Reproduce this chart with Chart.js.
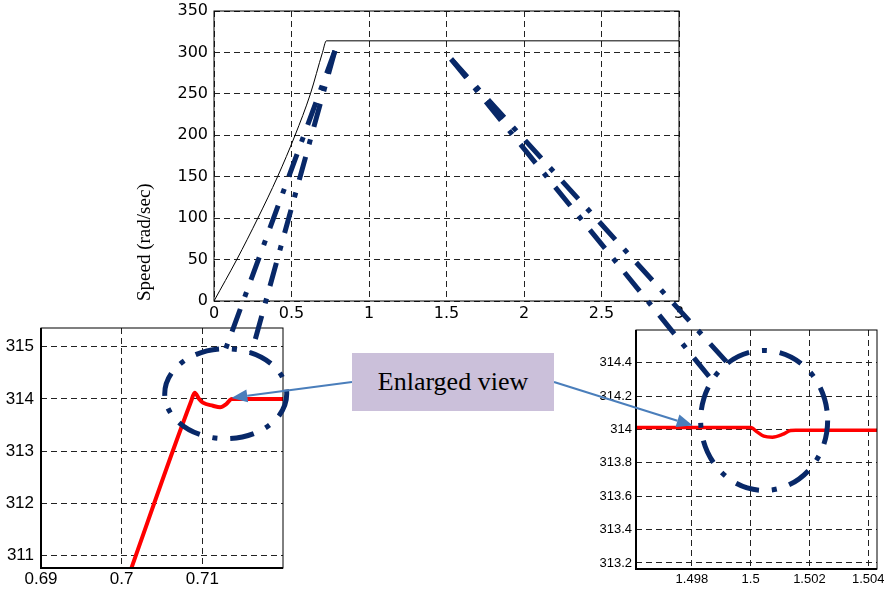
<!DOCTYPE html>
<html>
<head>
<meta charset="utf-8">
<script src="https://cdn.jsdelivr.net/npm/chart.js@4.4.1/dist/chart.umd.min.js"></script>
<style>
  body { margin: 0; background: #fff; width: 884px; height: 594px; overflow: hidden; position: relative; }
  canvas { position: absolute; }
  #main { left: 120px; top: 0px; }
  #start { left: 0px; top: 320px; }
  #step { left: 590px; top: 320px; }
  #notes { left: 0; top: 0; pointer-events: none; }
  #label {
    position: absolute; left: 352px; top: 353px; width: 202px; height: 58px;
    background: #cbc0da; display: flex; align-items: center; justify-content: center;
    font: 26px "Liberation Serif", "Times New Roman", serif; color: #000;
  }
</style>
</head>
<body>
<canvas id="main" width="580" height="330"></canvas>
<canvas id="start" width="300" height="274"></canvas>
<canvas id="step" width="294" height="274"></canvas>
<canvas id="notes" width="884" height="594"></canvas>
<div id="label">Enlarged view</div>
<script>
// main speed curve
const mainTime = [0, 0.147, 0.283, 0.41, 0.523, 0.622, 0.70, 0.725, 3];
const mainSpeed = [0, 50, 100, 150, 200, 250, 300, 314, 314];
const mainXTicks = [0, 0.5, 1, 1.5, 2, 2.5, 3];
const mainYTicks = [0, 50, 100, 150, 200, 250, 300, 350];

// zoom at the end of the ramp
const startTime = [0.7005, 0.7086, 0.70905, 0.7096, 0.71007, 0.71131, 0.71222, 0.71296, 0.71365, 0.7145, 0.72];
const startSpeed = [310.45, 313.95, 314.12, 314.0, 313.93, 313.87, 313.84, 313.9, 314.0, 314.0, 314.0];
const startXTicks = [0.69, 0.7, 0.71];
const startYTicks = [311, 312, 313, 314, 315];

// zoom at the load step
const stepTime = [1.4961, 1.5, 1.50023, 1.50045, 1.50074, 1.50108, 1.50136, 1.50153, 1.5043];
const stepSpeed = [314.012, 314.012, 313.984, 313.96, 313.954, 313.97, 313.994, 313.996, 313.996];
const stepXTicks = [1.498, 1.5, 1.502, 1.504];
const stepYTicks = [313.2, 313.4, 313.6, 313.8, 314, 314.2, 314.4];

const pts = (xs, ys) => xs.map((x, i) => ({x: x, y: ys[i]}));
const fmt = v => String(Number(v.toFixed(4)));

// MATLAB style box round the plot area
const boxPlugin = {
  id: 'box',
  afterDraw(chart, args, opts) {
    const a = chart.chartArea, ctx = chart.ctx;
    ctx.save();
    ctx.strokeStyle = '#000';
    ctx.lineWidth = 1;
    ctx.strokeRect(a.left, a.top, a.right - a.left, a.bottom - a.top);
    if (opts.heavy) {
      ctx.lineWidth = 2;
      ctx.beginPath();
      ctx.moveTo(a.left, a.top);
      ctx.lineTo(a.left, a.bottom);
      ctx.lineTo(a.right, a.bottom);
      ctx.stroke();
    }
    ctx.restore();
  }
};

function axis(min, max, ticks, size, font, pad, horizontal, title) {
  const o = {
    type: 'linear', min: min, max: max,
    afterBuildTicks: s => { s.ticks = ticks.map(v => ({value: v})); },
    afterFit: s => {
      if (horizontal) s.height = size; else s.width = size;
      s.paddingLeft = s.paddingRight = s.paddingTop = s.paddingBottom = 0;
    },
    grid: { color: '#222', lineWidth: 1, drawTicks: false },
    border: { display: false, dash: [6, 4] },
    ticks: { color: '#000', font: font, padding: pad, autoSkip: false, maxRotation: 0, callback: v => fmt(v) }
  };
  if (title) o.title = title;
  return o;
}

const mainChart = new Chart(document.getElementById('main'), {
  type: 'line',
  data: { datasets: [{
    data: pts(mainTime, mainSpeed),
    borderColor: '#000', borderWidth: 1, pointRadius: 0,
    cubicInterpolationMode: 'monotone'
  }]},
  options: {
    responsive: false, animation: false,
    layout: { padding: { left: 14, right: 21, top: 11, bottom: 0 } },
    plugins: { legend: { display: false }, tooltip: { enabled: false }, box: {} },
    scales: {
      x: axis(0, 3, mainXTicks, 29, { family: 'DejaVu Sans, Liberation Sans', size: 16 }, 3, true),
      y: axis(0, 350, mainYTicks, 80, { family: 'DejaVu Sans, Liberation Sans', size: 16 }, 6, false, {
        display: true, text: 'Speed (rad/sec)', align: 'start', color: '#000',
        font: { family: 'Liberation Serif, Times New Roman', size: 19 }, padding: { top: 0, bottom: 0 }
      })
    }
  },
  plugins: [boxPlugin]
});

const narrow = size => ({ family: 'Liberation Sans Narrow, Arial Narrow, Liberation Sans', size: size });

const startChart = new Chart(document.getElementById('start'), {
  type: 'line',
  data: { datasets: [{
    data: pts(startTime, startSpeed),
    borderColor: '#ff0000', borderWidth: 4, pointRadius: 0,
    cubicInterpolationMode: 'monotone'
  }]},
  options: {
    responsive: false, animation: false,
    layout: { padding: { left: 0, right: 17, top: 8, bottom: 0 } },
    plugins: { legend: { display: false }, tooltip: { enabled: false }, box: { heavy: true } },
    scales: {
      x: axis(0.69, 0.72, startXTicks, 26, narrow(17), 1, true),
      y: axis(310.76, 315.36, startYTicks, 41, narrow(17), 7, false)
    }
  },
  plugins: [boxPlugin]
});

const stepChart = new Chart(document.getElementById('step'), {
  type: 'line',
  data: { datasets: [{
    data: pts(stepTime, stepSpeed),
    borderColor: '#ff0000', borderWidth: 3.5, pointRadius: 0,
    cubicInterpolationMode: 'monotone'
  }]},
  options: {
    responsive: false, animation: false,
    layout: { padding: { left: 0, right: 7, top: 10, bottom: 0 } },
    plugins: { legend: { display: false }, tooltip: { enabled: false }, box: { heavy: true } },
    scales: {
      x: axis(1.4961, 1.5043, stepXTicks, 25, narrow(13), 3, true),
      y: axis(313.164, 314.596, stepYTicks, 46, narrow(13), 4, false)
    }
  },
  plugins: [boxPlugin]
});

// zoom markers and arrows, placed from the charts' own scales
function at(chart, x, y) {
  const r = chart.canvas.getBoundingClientRect();
  return [r.left + chart.scales.x.getPixelForValue(x), r.top + chart.scales.y.getPixelForValue(y)];
}

function drawNotes() {
  const ctx = document.getElementById('notes').getContext('2d');
  const navy = '#082868';
  ctx.lineWidth = 5;
  ctx.strokeStyle = navy;
  ctx.lineCap = 'butt';
  ctx.setLineDash([24, 13, 5, 13]);

  const lc = at(startChart, 0.7129, 314.1), lrx = 61, lry = 45;
  const rc = at(stepChart, 1.50046, 314.054), rrx = 63.5, rry = 70;
  const onEll = (c, rx, ry, deg) => [c[0] + rx * Math.cos(deg * Math.PI / 180), c[1] + ry * Math.sin(deg * Math.PI / 180)];

  const seg = (a, b) => { ctx.beginPath(); ctx.moveTo(a[0], a[1]); ctx.lineTo(b[0], b[1]); ctx.stroke(); };

  const lApex = at(mainChart, 0.78, 302);
  seg(lApex, onEll(lc, lrx, lry, -90));
  seg(lApex, onEll(lc, lrx, lry, -65));
  const rApex = at(mainChart, 1.53, 292);
  seg(rApex, onEll(rc, rrx, rry, -125));
  seg(rApex, onEll(rc, rrx, rry, -145));

  ctx.beginPath(); ctx.ellipse(lc[0], lc[1], lrx, lry, 0, 0, Math.PI * 2); ctx.stroke();
  ctx.beginPath(); ctx.ellipse(rc[0], rc[1], rrx, rry, 0, 0, Math.PI * 2); ctx.stroke();

  // arrows from the label box
  const box = document.getElementById('label').getBoundingClientRect();
  const arrow = (from, to) => {
    ctx.setLineDash([]);
    ctx.strokeStyle = '#4a7ebb'; ctx.fillStyle = '#4a7ebb'; ctx.lineWidth = 2;
    const ang = Math.atan2(to[1] - from[1], to[0] - from[0]);
    const len = 16, hw = 6.5;
    const bx = to[0] - len * Math.cos(ang), by = to[1] - len * Math.sin(ang);
    ctx.beginPath(); ctx.moveTo(from[0], from[1]); ctx.lineTo(bx, by); ctx.stroke();
    ctx.beginPath();
    ctx.moveTo(to[0], to[1]);
    ctx.lineTo(bx + hw * Math.sin(ang), by - hw * Math.cos(ang));
    ctx.lineTo(bx - hw * Math.sin(ang), by + hw * Math.cos(ang));
    ctx.closePath(); ctx.fill();
  };
  arrow([box.left, box.top + 29], at(startChart, 0.7136, 314.02));
  arrow([box.right, box.top + 29], at(stepChart, 1.49803, 314.024));
}
drawNotes();
</script>
</body>
</html>
